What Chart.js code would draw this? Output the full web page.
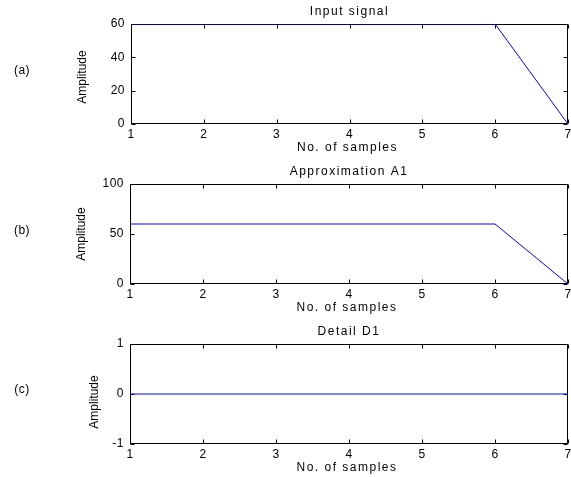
<!DOCTYPE html>
<html><head><meta charset="utf-8">
<script src="https://cdn.jsdelivr.net/npm/chart.js@4.4.0/dist/chart.umd.min.js"></script>
<style>
html,body{margin:0;padding:0;background:#fff;overflow:hidden;width:571px;height:477px;}
.panel{position:absolute;left:0;width:571px;height:160px;}
canvas{display:block;}
</style></head><body>
<div class="panel" style="top:0"><canvas id="c0" width="571" height="160"></canvas></div>
<div class="panel" style="top:160px"><canvas id="c1" width="571" height="160"></canvas></div>
<div class="panel" style="top:320px"><canvas id="c2" width="571" height="160"></canvas></div>
<script>
const samples = [1, 2, 3, 4, 5, 6, 7];
const inputSignal = [60, 60, 60, 60, 60, 60, 0];
const approxA1 = [60, 60, 60, 60, 60, 60, 0];
const detailD1 = [0, 0, 0, 0, 0, 0, 0];
const xTicks = [1, 2, 3, 4, 5, 6, 7];
const yTicksA = [0, 20, 40, 60];
const yTicksB = [0, 50, 100];
const yTicksC = [-1, 0, 1];
const panelTitles = ['Input signal', 'Approximation A1', 'Detail D1'];
const panelLabels = ['(a)', '(b)', '(c)'];
const xTitle = 'No. of samples';
const yTitle = 'Amplitude';

const FAMILY = '"Liberation Sans", Arial, sans-serif';

const matlabPlugin = {
  id: 'matlab',
  beforeUpdate(chart) { chart.ctx.letterSpacing = '0.5px'; },
  beforeDraw(chart) { chart.ctx.letterSpacing = '0.5px'; },
  beforeDatasetsDraw(chart) {
    const {ctx, chartArea: a, scales: {x, y}} = chart;
    ctx.save();
    ctx.strokeStyle = '#000';
    ctx.lineWidth = 1;
    const L = Math.round(a.left) + 0.5, R = Math.round(a.right) - 0.5;
    const T = Math.round(a.top) + 0.5, B = Math.round(a.bottom) - 0.5;
    ctx.strokeRect(L, T, R - L, B - T);
    ctx.beginPath();
    x.ticks.forEach(t => {
      const px = Math.round(x.getPixelForValue(t.value)) + 0.5;
      ctx.moveTo(px, B); ctx.lineTo(px, B - 4);
      ctx.moveTo(px, T); ctx.lineTo(px, T + 4);
    });
    y.ticks.forEach(t => {
      const py = Math.round(y.getPixelForValue(t.value)) + 0.5;
      ctx.moveTo(L, py); ctx.lineTo(L + 4, py);
      ctx.moveTo(R, py); ctx.lineTo(R - 4, py);
    });
    ctx.stroke();
    ctx.restore();
  },
  afterDraw(chart) {
    const {ctx, chartArea: a} = chart;
    const cfg = chart.options.plugins.matlab;
    const cx = (a.left + a.right) / 2;
    ctx.save();
    ctx.fillStyle = '#000';
    ctx.font = '12px ' + FAMILY;
    ctx.textAlign = 'center';
    ctx.textBaseline = 'middle';
    ctx.letterSpacing = '1.5px';
    ctx.fillText(cfg.title, cx, 12);
    ctx.fillText(xTitle, cx - 2, 148);
    ctx.letterSpacing = '0.5px';
    ctx.fillText(cfg.label, 22, cfg.labelY);
    ctx.translate(cfg.yTitleX, cfg.yTitleY);
    ctx.rotate(-Math.PI / 2);
    ctx.letterSpacing = '0px';
    ctx.fillText(yTitle, 0, 0);
    ctx.restore();
  }
};

function makeChart(id, values, yTicks, title, label, o) {
  return new Chart(document.getElementById(id), {
    type: 'line',
    data: {
      datasets: [{
        data: samples.map((x, i) => ({x: x, y: values[i]})),
        borderColor: '#0000ff', backgroundColor: '#0000ff',
        borderWidth: 1, pointRadius: 0, tension: 0, fill: false
      }]
    },
    options: {
      responsive: false, animation: false, devicePixelRatio: 1, events: [],
      layout: {padding: {left: 0, top: 24, right: 3, bottom: 0}},
      plugins: {
        legend: {display: false}, tooltip: {enabled: false}, title: {display: false},
        matlab: {title: title, label: label, labelY: o.labelY, yTitleX: o.yTitleX, yTitleY: o.yTitleY}
      },
      scales: {
        x: {
          type: 'linear', min: samples[0], max: samples[samples.length - 1],
          afterBuildTicks: s => { s.ticks = xTicks.map(v => ({value: v})); },
          ticks: {font: {family: FAMILY, size: 12}, color: '#000', padding: 3, maxRotation: 0, autoSkip: false},
          grid: {display: false, drawTicks: false}, border: {display: false},
          title: {display: false},
          afterFit: s => { s.height = 36; s.paddingLeft = 0; s.paddingRight = 0; }
        },
        y: {
          type: 'linear', min: yTicks[0], max: yTicks[yTicks.length - 1],
          afterBuildTicks: s => { s.ticks = yTicks.map(v => ({value: v})); },
          ticks: {font: {family: FAMILY, size: 12}, color: '#000', padding: 6, autoSkip: false},
          grid: {display: false, drawTicks: false}, border: {display: false},
          afterFit: s => { s.width = o.left; s.paddingTop = 0; s.paddingBottom = 0; }
        }
      }
    },
    plugins: [matlabPlugin]
  });
}

makeChart('c0', inputSignal, yTicksA, panelTitles[0], panelLabels[0], {left: 131, labelY: 71, yTitleX: 83, yTitleY: 77});
makeChart('c1', approxA1, yTicksB, panelTitles[1], panelLabels[1], {left: 130, labelY: 71, yTitleX: 82, yTitleY: 74});
makeChart('c2', detailD1, yTicksC, panelTitles[2], panelLabels[2], {left: 130, labelY: 70, yTitleX: 95, yTitleY: 82});
</script>
</body></html>
